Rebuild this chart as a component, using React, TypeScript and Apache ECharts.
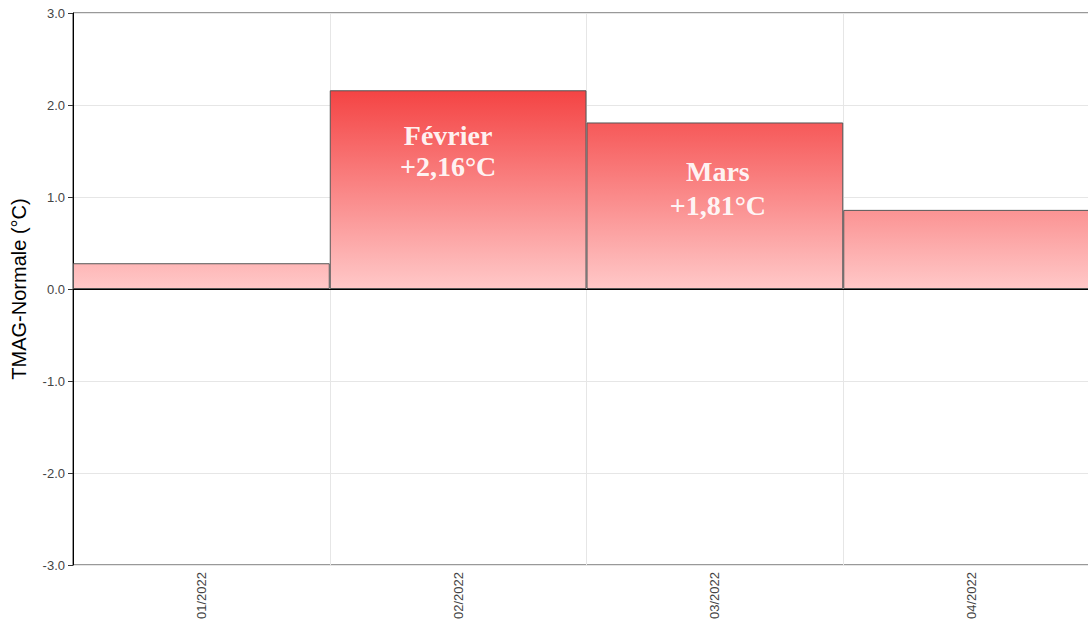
import React, { useEffect, useRef } from "react";
import * as echarts from "echarts";

const categories = ["01/2022", "02/2022", "03/2022", "04/2022"];
const values = [0.28, 2.16, 1.81, 0.86];
const barLabels = ["", "Février\n+2,16°C", "Mars\n+1,81°C", ""];
const yMin = -3;
const yMax = 3;
const yInterval = 1;

const bottomColor = [255, 200, 200];
const topColor = [244, 68, 68];

const labelStyles: Record<number, { offset: number[]; lineHeight: number; distance: number }> = {
  1: { offset: [-10, 0], lineHeight: 31, distance: 30 },
  2: { offset: [3, 0], lineHeight: 34, distance: 32 },
};

function mix(t: number): string {
  const c = bottomColor.map((b, i) => Math.round(b + (topColor[i] - b) * t));
  return `rgb(${c[0]},${c[1]},${c[2]})`;
}

export default function App() {
  const ref = useRef<HTMLDivElement>(null);
  useEffect(() => {
    if (!ref.current) return;
    const chart = echarts.init(ref.current, undefined, { renderer: "svg" });
    const maxV = Math.max(...values);
    const data = values.map((v, i) => ({
      value: v,
      itemStyle: {
        color: new echarts.graphic.LinearGradient(0, 0, 0, 1, [
          { offset: 0, color: mix(v / maxV) },
          { offset: 1, color: mix(0) },
        ]),
      },
      label: barLabels[i]
        ? {
            show: true,
            formatter: barLabels[i],
            ...labelStyles[i],
          }
        : { show: false },
    }));
    chart.setOption({
      animation: false,
      grid: {
        left: 73,
        top: 13,
        right: 0,
        bottom: 58,
        show: true,
        borderColor: "#333",
        borderWidth: 1,
        backgroundColor: "transparent",
      },
      xAxis: {
        type: "category",
        data: categories,
        boundaryGap: true,
        axisLine: { show: true, lineStyle: { color: "#555", width: 1 } },
        axisTick: { show: false },
        splitLine: { show: true, interval: 0, lineStyle: { color: "#e6e6e6" } },
        axisLabel: {
          rotate: 90,
          interval: 0,
          fontSize: 13,
          color: "#444",
          fontFamily: "'Liberation Sans', Arial, sans-serif",
          margin: 7,
        },
      },
      yAxis: {
        type: "value",
        min: yMin,
        max: yMax,
        interval: yInterval,
        name: "TMAG-Normale (°C)",
        nameLocation: "middle",
        nameGap: 44,
        nameTextStyle: {
          fontSize: 20,
          color: "#000",
          fontFamily: "'Liberation Sans', Arial, sans-serif",
        },
        axisLine: { show: true, onZero: false, lineStyle: { color: "#000", width: 1 } },
        axisTick: { show: true, length: 5, lineStyle: { color: "#333" } },
        splitLine: { show: true, lineStyle: { color: "#e6e6e6" } },
        axisLabel: {
          formatter: (v: number) => v.toFixed(1),
          fontSize: 13,
          color: "#444",
          fontFamily: "'Liberation Sans', Arial, sans-serif",
          margin: 8,
        },
      },
      series: [
        {
          type: "bar",
          data,
          barWidth: "100%",
          barCategoryGap: "0%",
          itemStyle: { borderColor: "#555", borderWidth: 1 },
          label: {
            position: "insideTop",
            distance: 31,
            color: "rgba(255,255,255,0.93)",
            fontFamily: "'Liberation Serif', 'Times New Roman', serif",
            fontWeight: "bold",
            fontSize: 28,
            lineHeight: 32,
            align: "center",
          },
          markLine: {
            silent: true,
            symbol: "none",
            label: { show: false },
            lineStyle: { color: "#000", width: 1, type: "solid" },
            data: [{ yAxis: 0 }],
          },
        },
      ],
    });
    return () => chart.dispose();
  }, []);
  return (
    <div style={{ position: "absolute", left: 0, top: 0, width: 1088, height: 623, overflow: "hidden" }}>
      <div ref={ref} style={{ width: 1100, height: 623 }} />
    </div>
  );
}
